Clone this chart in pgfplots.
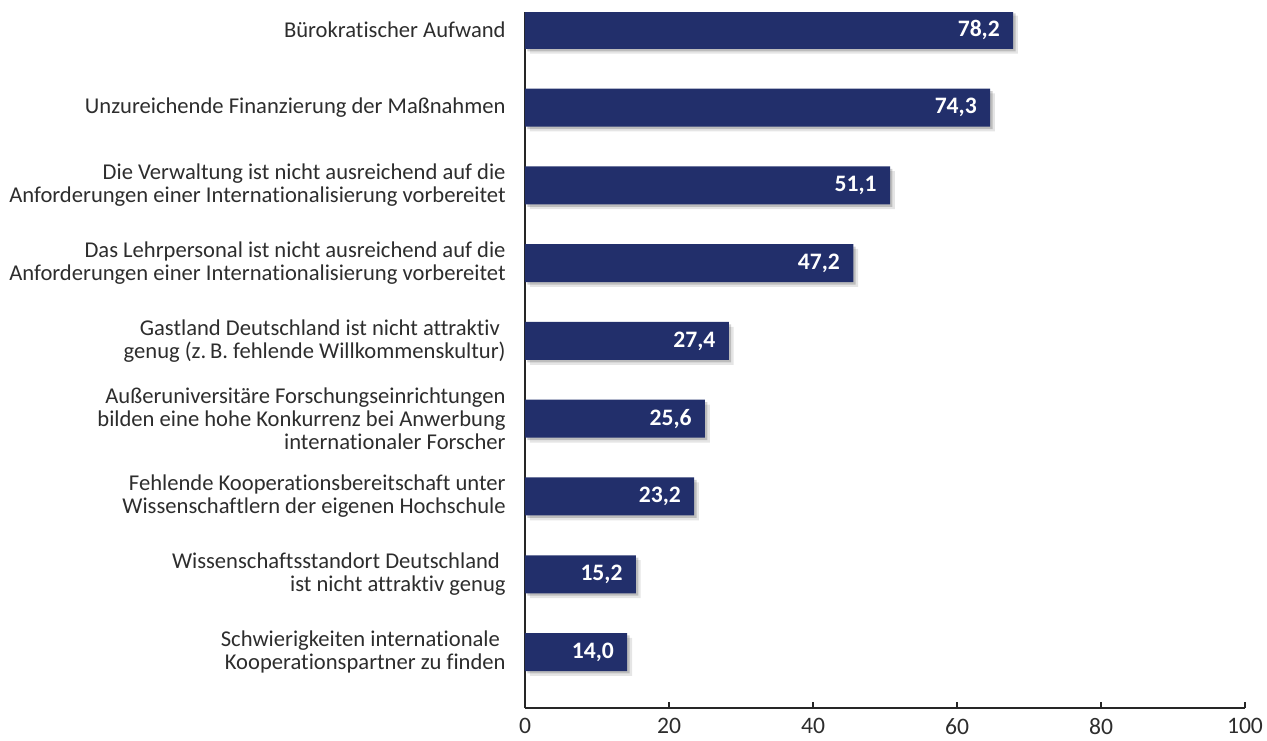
\documentclass[border=0pt]{standalone}
\usepackage{pgfplots}
\pgfplotsset{compat=1.18}
\usepackage{fontspec}
\setmainfont{Carlito}[Ligatures=CommonOff]
\definecolor{barblue}{RGB}{34,47,107}
\definecolor{txt}{RGB}{45,45,45}
\pgfplotstableread{
len  pos  lab
14.2 1 14,0
15.4 2 15,2
23.5 3 23,2
25.0 4 25,6
28.3 5 27,4
45.6 6 47,2
50.7 7 51,1
64.6 8 74,3
67.8 9 78,2
}\bars
\begin{document}
\begin{tikzpicture}
  \begin{axis}[
      xbar,
      scale only axis,
      width=360pt,
      height=348pt,
      xmin=0, xmax=100,
      ymin=0.28, ymax=9.23,
      axis x line=bottom,
      axis y line=left,
      axis line style={-, line width=0.6pt, black!85},
      xtick={0,20,...,100},
      xtick align=inside,
      major tick length=3pt,
      tick style={line width=0.6pt, black!85},
      ytick={1,...,9},
      ytick style={draw=none},
      yticklabels={
        {Schwierigkeiten internationale\hspace*{.25em}\\Kooperationspartner zu finden},
        {Wissenschaftsstandort Deutschland\hspace*{.25em}\\ist nicht attraktiv genug},
        {Fehlende Kooperationsbereitschaft unter\\Wissenschaftlern der eigenen Hochschule},
        {Außeruniversitäre Forschungseinrichtungen\\bilden eine hohe Konkurrenz bei Anwerbung\hspace*{.25em}\\internationaler Forscher},
        {Gastland Deutschland ist nicht attraktiv\hspace*{.25em}\\genug (z.\,B. fehlende Willkommenskultur)},
        {Das Lehrpersonal ist nicht ausreichend auf die\\Anforderungen einer Internationalisierung vorbereitet},
        {Die Verwaltung ist nicht ausreichend auf die\\Anforderungen einer Internationalisierung vorbereitet},
        {Unzureichende Finanzierung der Maßnahmen},
        {Bürokratischer Aufwand}
      },
      yticklabel style={align=right, inner sep=0pt, xshift=-8pt,
        font=\fontsize{11.3}{11.6}\selectfont, text=txt},
      xticklabel style={font=\fontsize{11.8}{12}\selectfont, text=txt, yshift=-1.5pt},
      /pgf/number format/assume math mode=true,
      bar width=19pt,
    ]
    % soft drop shadow
    \addplot[fill=black, fill opacity=0.10, draw=none, bar shift=-2.4pt,
      xshift=2.4pt, forget plot] table[x=len, y=pos] {\bars};
    \addplot[fill=black, fill opacity=0.18, draw=none, bar shift=-1.2pt,
      xshift=1.2pt, forget plot] table[x=len, y=pos] {\bars};
    % bars
    \addplot[fill=barblue, draw=none, bar shift=0pt,
      point meta=explicit symbolic,
      nodes near coords,
      every node near coord/.append style={anchor=east, inner xsep=6.5pt,
        text=white, font=\fontsize{11.8}{12}\selectfont\bfseries}]
      table[x=len, y=pos, meta=lab] {\bars};
  \end{axis}
  \pgfresetboundingbox
  \path ([xshift=-262.5pt,yshift=-16pt]current axis.south west)
    rectangle ([xshift=11pt,yshift=6pt]current axis.north east);
\end{tikzpicture}
\end{document}
